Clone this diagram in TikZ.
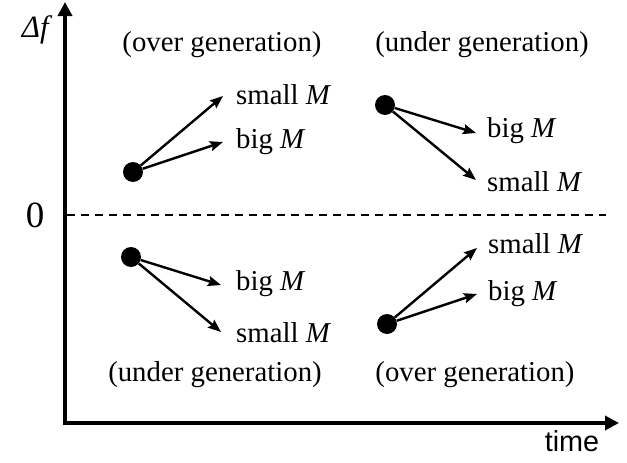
\documentclass[tikz,border=0pt]{standalone}
\usepackage{fontspec}
\setmainfont{Liberation Serif}
\newfontfamily\axisfont{Liberation Sans}
\usetikzlibrary{arrows.meta}
\tikzset{
  lbl/.style={font=\fontsize{28.8}{32}\selectfont, inner sep=0pt},
  side/.style={lbl, anchor=west},
  dot/.style={circle, fill=black, minimum size=20pt, inner sep=0pt},
  ray/.style={line width=2.4pt, -{Stealth[length=13pt,width=10pt,inset=2pt]}},
  axis/.style={line width=4pt, -{Triangle[length=14pt,width=14pt]}},
}
\newcommand{\mvar}{\textit{M}}
\begin{document}
\begin{tikzpicture}[x=1pt,y=-1pt]
\useasboundingbox (0,0) rectangle (627,463);
% axes
\coordinate (origin) at (65,423);
\coordinate (ytop) at (65,2);
\coordinate (xend) at (619,423);
\draw[axis] (65,425) -- (ytop);
\draw[axis] (63,423) -- (xend);
\node[lbl, font=\fontsize{31}{34}\selectfont] (dfl) at (37,30) {\textit{Δf}};
\node[lbl, font=\fontsize{28.8}{32}\axisfont] (tl) at (572,441) {time};
% zero level
\node[lbl, font=\fontsize{37}{40}\selectfont] (zero) at (35,215) {0};
\coordinate (z0) at (67,215);
\coordinate (z1) at (606,215);
\draw[line width=1.6pt, dash pattern=on 8pt off 6pt] (z0) -- (z1);
% group headings
\node[lbl] (h1) at (222,45) {(over generation)};
\node[lbl] (h2) at (482,45) {(under generation)};
\node[lbl] (h3) at (215,375) {(under generation)};
\node[lbl] (h4) at (475,375) {(over generation)};
% upper left
\node[dot] (p1) at (133,172) {};
\coordinate (p1a) at (223,96);
\coordinate (p1b) at (223,142);
\draw[ray] (p1) -- (p1a);
\draw[ray] (p1) -- (p1b);
\node[side] (p1sa) at (236,95) {small \mvar};
\node[side] (p1sb) at (236,142) {big \mvar};
% upper right
\node[dot] (p2) at (385,105) {};
\coordinate (p2a) at (476,133);
\coordinate (p2b) at (476,180);
\draw[ray] (p2) -- (p2a);
\draw[ray] (p2) -- (p2b);
\node[side] (p2sa) at (487,131) {big \mvar};
\node[side] (p2sb) at (487,182) {small \mvar};
% lower left
\node[dot] (p3) at (131,257) {};
\coordinate (p3a) at (221,285);
\coordinate (p3b) at (221,332);
\draw[ray] (p3) -- (p3a);
\draw[ray] (p3) -- (p3b);
\node[side] (p3sa) at (236,284) {big \mvar};
\node[side] (p3sb) at (236,333) {small \mvar};
% lower right
\node[dot] (p4) at (387,324) {};
\coordinate (p4a) at (477,248);
\coordinate (p4b) at (477,294);
\draw[ray] (p4) -- (p4a);
\draw[ray] (p4) -- (p4b);
\node[side] (p4sa) at (488,244) {small \mvar};
\node[side] (p4sb) at (488,294) {big \mvar};
\end{tikzpicture}
\end{document}
